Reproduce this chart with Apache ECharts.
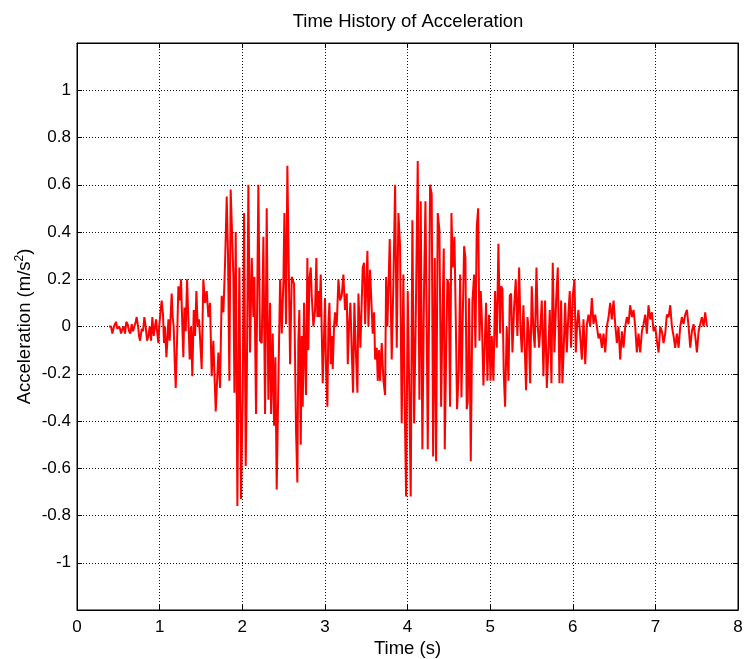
<!DOCTYPE html>
<html>
<head>
<meta charset="utf-8">
<title>Time History of Acceleration</title>
<script src="https://cdn.jsdelivr.net/npm/echarts@6/dist/echarts.min.js"></script>
<style>
  html, body { margin: 0; padding: 0; background: #fff; overflow: hidden; }
  #chart { width: 744px; height: 659px; }
</style>
</head>
<body>
<div id="chart"></div>
<script>
// [time (s), acceleration (m/s^2)]
const preEvent = [
  [0.387, 0.0], [0.412, 0.0], [0.428, -0.03], [0.448, 0.0], [0.472, 0.02], [0.488, -0.01],
  [0.509, 0.0], [0.521, -0.01], [0.533, -0.03], [0.549, -0.01], [0.565, 0.0], [0.581, -0.03],
  [0.597, 0.02], [0.613, 0.01], [0.630, -0.02], [0.646, -0.03], [0.662, 0.01], [0.678, -0.02],
  [0.694, 0.0], [0.710, 0.02], [0.722, 0.04], [0.739, 0.0], [0.751, -0.04], [0.763, -0.06],
  [0.783, -0.01], [0.799, -0.02], [0.815, 0.04], [0.831, 0.0], [0.848, -0.06], [0.864, -0.04],
  [0.880, 0.0], [0.896, -0.06], [0.912, 0.04], [0.928, -0.04], [0.944, 0.0], [0.957, 0.03],
  [0.969, -0.02], [0.985, -0.07], [0.997, 0.01], [1.013, 0.07], [1.025, 0.11], [1.041, 0.05],
  [1.053, -0.07], [1.065, 0.0], [1.082, -0.13], [1.094, -0.06], [1.106, 0.03], [1.122, -0.06],
  [1.134, 0.05], [1.146, 0.14], [1.158, 0.04], [1.170, 0.0], [1.183, -0.15], [1.195, -0.26],
  [1.211, -0.06], [1.227, 0.17], [1.243, 0.11], [1.259, 0.20], [1.275, 0.0], [1.287, -0.13],
  [1.300, 0.08], [1.316, -0.02], [1.332, 0.20], [1.348, 0.03], [1.364, -0.14], [1.380, 0.0],
  [1.396, -0.21], [1.413, 0.07], [1.429, -0.04], [1.445, 0.15], [1.461, 0.0], [1.477, 0.03]
];

const firstBurst = [
  [1.509, -0.18], [1.529, 0.20], [1.550, 0.10], [1.570, 0.15], [1.590, 0.04], [1.610, 0.10],
  [1.630, -0.21], [1.650, -0.06], [1.679, -0.36], [1.711, -0.11], [1.731, -0.26], [1.751, 0.13],
  [1.772, 0.06], [1.792, 0.27], [1.812, 0.55], [1.828, 0.30], [1.844, -0.23], [1.860, 0.58],
  [1.893, 0.21], [1.905, -0.28], [1.921, 0.40], [1.941, -0.76], [1.965, 0.25], [1.985, -0.73],
  [2.006, -0.28], [2.022, 0.48], [2.042, -0.59], [2.054, -0.28], [2.074, 0.60], [2.094, -0.11],
  [2.115, 0.29], [2.135, 0.04], [2.147, 0.21], [2.167, -0.37], [2.195, 0.60], [2.215, -0.06],
  [2.236, -0.07], [2.256, 0.38], [2.276, -0.37], [2.296, 0.50], [2.316, -0.31], [2.337, 0.10],
  [2.349, -0.37], [2.369, -0.03], [2.385, -0.42], [2.401, -0.13], [2.417, -0.69], [2.437, -0.24],
  [2.458, 0.20], [2.478, -0.03], [2.498, 0.19], [2.510, 0.48], [2.530, 0.01], [2.546, 0.68],
  [2.563, 0.25], [2.579, -0.16], [2.599, 0.21], [2.627, 0.18]
];

const midSection = [
  [2.651, -0.44], [2.667, -0.66], [2.679, -0.06], [2.691, 0.07], [2.708, -0.50], [2.720, -0.04],
  [2.732, -0.34], [2.748, 0.10], [2.760, -0.13], [2.772, -0.29], [2.788, 0.29], [2.800, -0.10],
  [2.813, 0.20], [2.829, 0.25], [2.841, 0.13], [2.861, 0.0], [2.881, 0.07], [2.897, 0.29],
  [2.909, 0.04], [2.921, 0.15], [2.934, 0.04], [2.950, 0.22], [2.962, -0.02], [2.974, -0.24],
  [2.990, -0.04], [3.002, 0.12], [3.014, -0.18], [3.030, -0.34], [3.043, 0.01], [3.055, 0.10],
  [3.071, -0.16], [3.083, -0.04], [3.095, -0.18], [3.111, 0.0], [3.123, 0.06], [3.143, 0.0],
  [3.164, 0.20], [3.184, 0.11], [3.204, 0.13], [3.224, 0.22], [3.244, 0.07], [3.265, 0.14],
  [3.277, -0.16], [3.293, 0.01], [3.309, 0.10], [3.325, -0.10], [3.341, -0.28], [3.357, 0.10],
  [3.374, -0.10], [3.394, -0.28], [3.406, 0.14], [3.418, 0.03], [3.430, -0.09], [3.446, -0.09],
  [3.458, 0.25], [3.474, 0.27], [3.487, 0.01], [3.499, 0.15], [3.515, 0.32], [3.527, 0.0],
  [3.547, 0.24], [3.567, 0.24], [3.579, -0.03], [3.596, 0.06], [3.608, -0.14], [3.628, -0.09],
  [3.640, -0.23], [3.656, -0.10], [3.668, -0.23], [3.688, -0.07], [3.709, -0.23], [3.729, -0.29],
  [3.741, 0.21], [3.757, 0.0], [3.769, 0.0], [3.785, 0.37]
];

const secondBurst = [
  [3.809, -0.14], [3.829, 0.18], [3.850, 0.60], [3.870, -0.09], [3.890, 0.48], [3.910, 0.34],
  [3.930, -0.41], [3.950, 0.22], [3.967, -0.35], [3.983, -0.72], [4.003, 0.15], [4.023, -0.31],
  [4.039, -0.72], [4.059, 0.45], [4.080, -0.41], [4.100, 0.04], [4.124, 0.70], [4.144, -0.31],
  [4.160, 0.53], [4.180, -0.52], [4.201, 0.18], [4.217, 0.53], [4.233, 0.0], [4.245, -0.52],
  [4.261, 0.04], [4.273, 0.60], [4.293, 0.56], [4.310, -0.55], [4.330, 0.29], [4.346, -0.57],
  [4.366, 0.48], [4.386, 0.41], [4.407, -0.34], [4.423, 0.04], [4.439, 0.33], [4.451, -0.52],
  [4.467, -0.13], [4.483, 0.20], [4.499, 0.18], [4.515, -0.34], [4.532, 0.48], [4.548, 0.25],
  [4.568, 0.38], [4.584, 0.04], [4.600, -0.35], [4.620, -0.19], [4.637, 0.22], [4.653, -0.30],
  [4.669, 0.04], [4.685, 0.34], [4.701, 0.29], [4.717, -0.35], [4.729, -0.32], [4.746, 0.12],
  [4.766, -0.57], [4.786, 0.11], [4.806, 0.22], [4.822, -0.09], [4.838, 0.42], [4.855, 0.50],
  [4.871, -0.06], [4.887, 0.15], [4.899, 0.04], [4.919, -0.25]
];

const decay = [
  [4.951, 0.10], [4.967, -0.23], [4.987, 0.05], [5.004, -0.23], [5.020, -0.04], [5.040, -0.23],
  [5.060, 0.15], [5.080, -0.09], [5.100, 0.35], [5.121, -0.03], [5.133, 0.17], [5.149, 0.16],
  [5.165, -0.20], [5.181, -0.34], [5.201, 0.0], [5.222, -0.23], [5.238, 0.13], [5.254, 0.14],
  [5.270, -0.11], [5.290, 0.08], [5.310, 0.20], [5.330, -0.04], [5.351, 0.25], [5.367, 0.0],
  [5.383, -0.11], [5.403, 0.09], [5.419, -0.09], [5.435, -0.27], [5.452, 0.04], [5.468, -0.02],
  [5.484, -0.24], [5.504, 0.17], [5.524, -0.02], [5.540, -0.09], [5.561, 0.25], [5.577, 0.0],
  [5.593, -0.09], [5.609, 0.0], [5.625, 0.11], [5.645, -0.21], [5.665, 0.11], [5.686, -0.26],
  [5.706, -0.09], [5.722, 0.07], [5.742, -0.24], [5.758, 0.27], [5.778, -0.11], [5.799, 0.11],
  [5.819, 0.25], [5.839, -0.24], [5.859, 0.11], [5.875, -0.24], [5.891, -0.09], [5.908, 0.10],
  [5.928, -0.11], [5.948, 0.06], [5.964, 0.15], [5.980, -0.09], [6.000, 0.13], [6.021, 0.20],
  [6.037, -0.11], [6.053, 0.01], [6.069, 0.07]
];

const coda = [
  [6.110, -0.14], [6.130, 0.03], [6.151, -0.16], [6.171, 0.01], [6.191, 0.05], [6.211, 0.0],
  [6.231, 0.12], [6.251, 0.01], [6.272, 0.05], [6.292, 0.0], [6.312, -0.05], [6.332, -0.03],
  [6.352, -0.09], [6.373, -0.03], [6.393, -0.11], [6.413, 0.0], [6.433, 0.04], [6.453, 0.10],
  [6.473, 0.03], [6.494, 0.11], [6.514, 0.01], [6.534, -0.07], [6.554, 0.0], [6.574, -0.14],
  [6.595, -0.02], [6.615, -0.09], [6.635, 0.0], [6.655, 0.04], [6.675, 0.01], [6.695, 0.09],
  [6.716, 0.04], [6.736, 0.07], [6.756, 0.0], [6.776, -0.11], [6.796, -0.03], [6.816, -0.11],
  [6.837, -0.02], [6.857, 0.01], [6.877, 0.05], [6.897, -0.03], [6.917, 0.09], [6.938, 0.03],
  [6.958, 0.06], [6.978, -0.02], [6.998, 0.0], [7.018, -0.06], [7.039, -0.11], [7.059, 0.0],
  [7.079, -0.02], [7.099, -0.07], [7.119, -0.03], [7.139, 0.05], [7.160, 0.04], [7.180, 0.09],
  [7.200, 0.0], [7.220, -0.04], [7.240, -0.09], [7.260, -0.03], [7.281, -0.09], [7.301, 0.0],
  [7.321, 0.04], [7.341, 0.01], [7.361, 0.05], [7.382, 0.07], [7.402, 0.0], [7.422, -0.09],
  [7.442, -0.02], [7.462, 0.01], [7.482, -0.04], [7.503, -0.11], [7.523, -0.02], [7.543, 0.01],
  [7.563, 0.04], [7.583, 0.0], [7.603, 0.06], [7.624, 0.0]
];

const xTicks = [0, 1, 2, 3, 4, 5, 6, 7, 8];
const yTicks = [-1, -0.8, -0.6, -0.4, -0.2, 0, 0.2, 0.4, 0.6, 0.8, 1];

const record = [].concat(preEvent, firstBurst, midSection, secondBurst, decay, coda);

const FONT = '"Liberation Sans", Arial, sans-serif';
const gridLine = { show: true, lineStyle: { color: '#111', width: 1, type: [1, 2] } };
const tickIn = { show: true, inside: true, length: 5, lineStyle: { color: '#000' } };

const chart = echarts.init(document.getElementById('chart'), null, { renderer: 'canvas' });

chart.setOption({
  animation: false,
  backgroundColor: '#fff',
  textStyle: { fontFamily: FONT },
  title: {
    text: 'Time History of Acceleration',
    left: 403,
    top: 7,
    textAlign: 'center',
    textStyle: { fontFamily: FONT, fontSize: 18.5, fontWeight: 'normal', color: '#000' }
  },
  grid: {
    left: 77, right: 6, top: 43, bottom: 49,
    outerBoundsMode: 'none',
    containLabel: false,
    show: true, borderColor: '#000', borderWidth: 1, backgroundColor: '#fff'
  },
  xAxis: [
    {
      type: 'value', min: 0, max: 8, interval: 1,
      name: 'Time (s)', nameLocation: 'middle', nameGap: 29, nameMoveOverlap: false,
      nameTextStyle: { fontFamily: FONT, fontSize: 18.5, color: '#000' },
      axisLine: { show: true, onZero: false, lineStyle: { color: '#000', width: 1 } },
      axisTick: tickIn,
      axisLabel: {
        color: '#000', fontFamily: FONT, fontSize: 17, margin: 9,
        formatter: (v) => (xTicks.indexOf(v) >= 0 ? String(v) : '')
      },
      splitLine: gridLine
    },
    {
      type: 'value', min: 0, max: 8, interval: 1, position: 'top',
      axisLine: { show: true, onZero: false, lineStyle: { color: '#000' } },
      axisTick: tickIn, axisLabel: { show: false }, splitLine: { show: false }
    }
  ],
  yAxis: [
    {
      type: 'value', min: -1.2, max: 1.2, interval: 0.2,
      name: '{a|Acceleration (m/s}{s|2}{a|)}', nameLocation: 'middle', nameGap: 42, nameRotate: 90,
      nameMoveOverlap: false,
      nameTextStyle: {
        rich: {
          a: { fontFamily: FONT, fontSize: 18.5, color: '#000' },
          s: { fontFamily: FONT, fontSize: 12, color: '#000', verticalAlign: 'top', padding: [0, 0, 9, 0] }
        }
      },
      axisLine: { show: true, onZero: false, lineStyle: { color: '#000', width: 1 } },
      axisTick: tickIn,
      axisLabel: {
        color: '#000', fontFamily: FONT, fontSize: 17, margin: 6,
        formatter: (v) => {
          const r = Math.round(v * 10) / 10;
          return yTicks.some((t) => Math.abs(t - r) < 1e-6) ? String(r) : '';
        }
      },
      splitLine: gridLine
    },
    {
      type: 'value', min: -1.2, max: 1.2, interval: 0.2, position: 'right',
      axisLine: { show: true, onZero: false, lineStyle: { color: '#000' } },
      axisTick: tickIn, axisLabel: { show: false }, splitLine: { show: false }
    }
  ],
  series: [
    {
      type: 'line',
      xAxisIndex: 0,
      yAxisIndex: 0,
      data: record,
      showSymbol: false,
      symbol: 'none',
      lineStyle: { color: '#ff0000', width: 2 },
      z: 3
    }
  ]
});
</script>
</body>
</html>
